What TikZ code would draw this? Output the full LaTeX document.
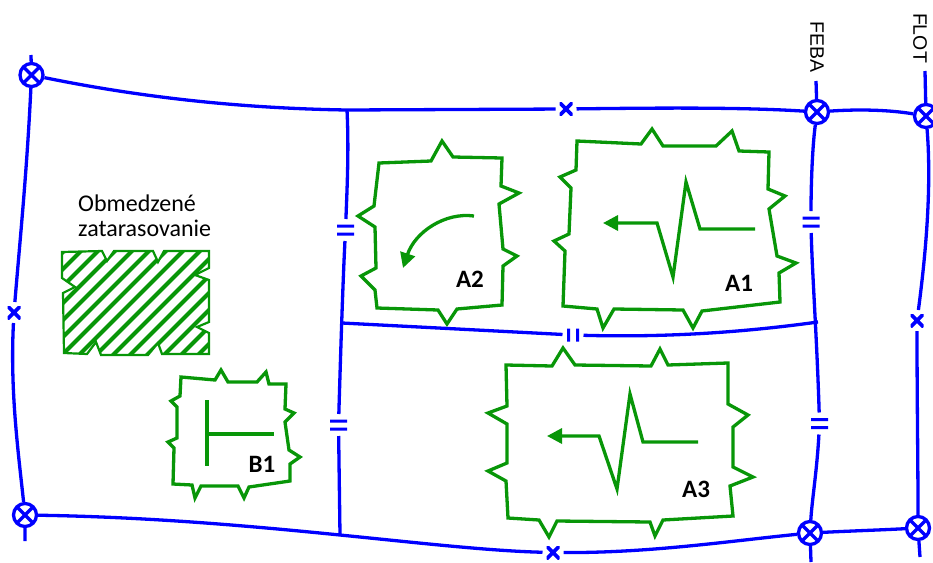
\documentclass[tikz,border=0pt]{standalone}
\usepackage{fontspec}
\setmainfont{Carlito}
\newfontfamily\arialfont{Liberation Sans}
\usetikzlibrary{arrows.meta}
\definecolor{lineblue}{RGB}{0,0,255}
\definecolor{zonegreen}{RGB}{8,150,8}
\tikzset{
  x=1pt,y=-1pt,
  phase/.style={draw=lineblue,line width=3.3pt},
  zone/.style={draw=zonegreen,line width=3.3pt,line join=miter,miter limit=6},
  attack/.style={draw=zonegreen,line width=3.3pt,-{Triangle[length=15pt,width=15pt]}},
  crossing/.style={circle,draw=lineblue,line width=3.3pt,minimum size=23pt,inner sep=0pt,
    path picture={\draw[lineblue,line width=3.3pt]
      (path picture bounding box.north west)--(path picture bounding box.south east)
      (path picture bounding box.north east)--(path picture bounding box.south west);}},
  xmark/.style={rectangle,minimum size=13pt,inner sep=0pt,outer sep=4pt,
    path picture={\draw[lineblue,line width=3.8pt]
      (path picture bounding box.north west)--(path picture bounding box.south east)
      (path picture bounding box.north east)--(path picture bounding box.south west);}},
  eqmark/.style={rectangle,minimum width=17pt,minimum height=11pt,inner sep=0pt,outer sep=5.5pt,
    path picture={\fill[lineblue] (path picture bounding box.north west) rectangle ([yshift=-3pt]path picture bounding box.north east)
      (path picture bounding box.south west) rectangle ([yshift=3pt]path picture bounding box.south east);}},
  barmark/.style={rectangle,minimum width=12pt,minimum height=13pt,inner sep=0pt,outer sep=4.5pt,
    path picture={\fill[lineblue] (path picture bounding box.north west) rectangle ([xshift=3pt]path picture bounding box.south west)
      (path picture bounding box.north east) rectangle ([xshift=-3pt]path picture bounding box.south east);}},
  zonelabel/.style={font=\fontsize{25}{25}\selectfont\bfseries,inner sep=0pt},
  linelabel/.style={font=\arialfont\fontsize{19.5}{19.5}\selectfont,rotate=-90,inner sep=0pt},
  note/.style={font=\fontsize{24}{25}\selectfont,align=left,anchor=north west,inner sep=0pt},
}
\begin{document}
\begin{tikzpicture}
\useasboundingbox (0,0) rectangle (933,562);
\clip (0,0) rectangle (933,562);
% crossings
\node[crossing] (cA) at (31.5,75) {};
\node[crossing] (cB) at (25,515) {};
\node[crossing] (cC) at (817,112) {};
\node[crossing] (cD) at (926,116) {};
\node[crossing] (cE) at (810,533) {};
\node[crossing] (cF) at (918,528) {};
% marks
\node[xmark] (xT) at (566,109) {};
\node[xmark] (xL) at (14,312.5) {};
\node[xmark] (xB) at (553,552.5) {};
\node[xmark] (xR) at (917,320.5) {};
\node[eqmark] (e1) at (345.5,230) {};
\node[eqmark] (e2) at (338.5,425) {};
\node[eqmark] (e3) at (811,222) {};
\node[eqmark] (e4) at (819.5,423.5) {};
\node[barmark] (b1) at (573,335) {};
% junctions and free ends
\coordinate (jT) at (347,110);
\coordinate (jM) at (342,323);
\coordinate (jB) at (340,535);
\coordinate (jR) at (818,322);
\coordinate (sA) at (31,55);
\coordinate (sB) at (25,541);
\coordinate (sC) at (816,81);
\coordinate (sD) at (925,71);
\coordinate (sE) at (811,562);
\coordinate (sF) at (920,557);
% stubs
\draw[phase] (sA)--(cA) (sB)--(cB) (sC)--(cC) (sD)--(cD) (sE)--(cE) (sF)--(cF);
% horizontal phase lines
\draw[phase] (cA) .. controls (120,93) and (220,108) .. (jT) -- (xT);
\draw[phase] (xT) .. controls (650,108) and (740,107) .. (cC);
\draw[phase] (cC) .. controls (860,109) and (890,110) .. (cD);
\draw[phase] (cB) .. controls (150,517) and (250,526) .. (jB) .. controls (420,543) and (490,551) .. (xB);
\draw[phase] (xB) .. controls (650,553) and (730,541) .. (cE);
\draw[phase] (cE) .. controls (850,531) and (880,530) .. (cF);
\draw[phase] (jM) -- (b1);
\draw[phase] (b1) .. controls (680,338) and (760,330) .. (jR);
% vertical phase lines
\draw[phase] (cA) .. controls (27,170) and (20,240) .. (xL);
\draw[phase] (xL) .. controls (10,390) and (18,450) .. (cB);
\draw[phase] (jT) .. controls (349,150) and (347,190) .. (e1);
\draw[phase] (e1) .. controls (343,280) and (341,340) .. (e2);
\draw[phase] (e2) -- (jB);
\draw[phase] (cC) .. controls (812,150) and (811,190) .. (e3);
\draw[phase] (e3) .. controls (812,270) and (817,340) .. (e4);
\draw[phase] (e4) .. controls (817,470) and (812,500) .. (cE);
\draw[phase] (cD) .. controls (932,190) and (925,260) .. (xR);
\draw[phase] (xR) .. controls (917,400) and (918,460) .. (cF);
% labels of lines
\node[linelabel] (feba) at (817,47) {FEBA};
\node[linelabel] (flot) at (920,38) {FLOT};
% restricted obstacle zone
\begin{scope}
\clip (62,252)--(102,251)--(107,261)--(114,251)--(153,251)--(158,262)--(164,251)--(209,251)--(209,268)--(195,275)--(209,280)--(209,322)--(197,327)--(209,333)--(209,354)--(162,354)--(158,343)--(148,355)--(101,355)--(96,342)--(87,354)--(64,353)--(63,293)--(75,287)--(62,278)--cycle;
\foreach \s in {-6,-5,...,12}{
  \draw[zonegreen,line width=4.2pt] ({17*\s},400)--({200+17*\s},200);
}
\end{scope}
\draw[zone,line width=2.2pt] (62,252)--(102,251)--(107,261)--(114,251)--(153,251)--(158,262)--(164,251)--(209,251)--(209,268)--(195,275)--(209,280)--(209,322)--(197,327)--(209,333)--(209,354)--(162,354)--(158,343)--(148,355)--(101,355)--(96,342)--(87,354)--(64,353)--(63,293)--(75,287)--(62,278)--cycle;
\node[note] (obm) at (78,195) {Obmedzené\\zatarasovanie};
% A2
\draw[zone] (379,163)--(431,161)--(442,141)--(453,157)--(502,158)--(501,186)--(519,193)--(499,204)--(503,249)--(517,256)--(503,266)--(502,305)--(457,309)--(447,324)--(438,310)--(377,308)--(375,290)--(361,276)--(376,268)--(375,227)--(358,216)--(374,206)--cycle;
\draw[attack] (474,216) .. controls (445,212) and (415,232) .. (403,268);
\node[zonelabel] (a2) at (470,279) {A2};
% A1
\draw[zone] (577,141)--(641,144)--(652,129)--(663,146)--(716,146)--(732,131)--(739,151)--(769,152)--(768,189)--(785,196)--(769,209)--(777,256)--(796,263)--(779,273)--(780,302)--(702,311)--(693,328)--(683,310)--(614,309)--(603,328)--(597,309)--(563,306)--(565,251)--(554,241)--(569,234)--(571,188)--(560,177)--(576,170)--cycle;
\draw[attack,line join=miter] (755,229)--(700,229)--(686,182)--(673,277)--(657,223)--(603,223);
\node[zonelabel] (a1) at (739,283) {A1};
% A3
\draw[zone] (506,365)--(552,366)--(563,348)--(575,365)--(651,366)--(660,349)--(668,365)--(728,363)--(728,404)--(748,415)--(733,427)--(733,467)--(753,477)--(730,486)--(733,516)--(663,520)--(655,536)--(650,522)--(557,521)--(549,537)--(539,520)--(508,518)--(506,481)--(488,471)--(507,463)--(507,424)--(488,413)--(507,406)--cycle;
\draw[attack,line join=miter] (698,442)--(643,442)--(630,394)--(617,489)--(599,436)--(547,436);
\node[zonelabel] (a3) at (696,489) {A3};
% B1
\draw[zone] (181,377)--(215,380)--(221,370)--(228,382)--(257,382)--(266,372)--(269,384)--(286,384)--(285,409)--(294,413)--(285,422)--(289,450)--(300,457)--(290,464)--(290,481)--(249,487)--(244,498)--(238,486)--(201,486)--(195,498)--(192,485)--(173,484)--(174,448)--(168,442)--(177,438)--(177,407)--(171,401)--(180,396)--cycle;
\draw[zone] (207,400)--(207,466) (207,434)--(274,434);
\node[zonelabel] (b1l) at (262,464) {B1};
\end{tikzpicture}
\end{document}
